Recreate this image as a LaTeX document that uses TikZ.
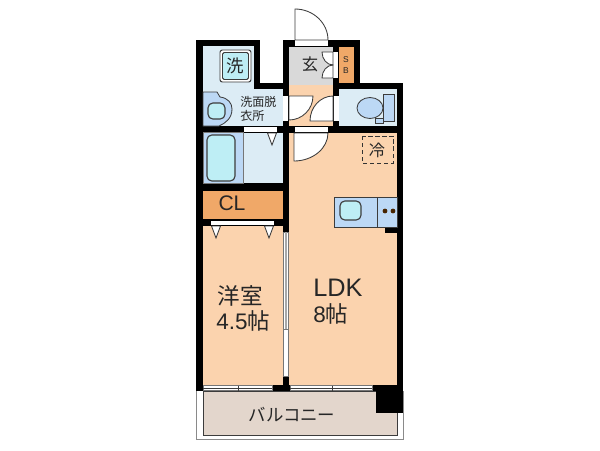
\documentclass[tikz,border=0pt]{standalone}
\usepackage{fontspec}
\setmainfont{Liberation Sans}
\newfontfamily\jpFont{Noto Sans CJK JP}
\tikzstyle{plan} = [x = .025cm, y = -.025cm]
\definecolor{wetColor}{RGB}{220,236,245}
\definecolor{fixtureColor}{RGB}{188,216,245}
\definecolor{waterColor}{RGB}{190,238,245}
\definecolor{roomColor}{RGB}{251,211,174}
\definecolor{closetColor}{RGB}{240,168,104}
\definecolor{entryColor}{RGB}{217,217,217}
\definecolor{balconyColor}{RGB}{227,214,204}
\definecolor{lineColor}{RGB}{60,60,60}
\tikzstyle{wallStyle} = [fill=black, draw=none]
\tikzstyle{gapStyle} = [fill=white, draw=none]
\tikzstyle{leafStyle} = [fill=white, draw=lineColor, line width=.6pt]
\tikzstyle{fixtureStyle} = [fill=fixtureColor, draw=lineColor, line width=.6pt]
\tikzstyle{waterStyle} = [fill=waterColor, draw=lineColor, line width=.8pt, rounded corners=.12cm]
\tikzstyle{roomText} = [font=\fontsize{16}{17}\selectfont\jpFont, text=black!85, inner sep=0pt]
\tikzstyle{smallText} = [font=\fontsize{8.6}{10}\selectfont\jpFont, text=black!85, inner sep=0pt]
\newcommand{\area}[5]{\fill [#5] (#1,#2) rectangle (#3,#4);}
\newcommand{\wall}[4]{\area{#1}{#2}{#3}{#4}{wallStyle}}
\newcommand{\gap}[4]{\area{#1}{#2}{#3}{#4}{gapStyle}}
% hinge at (#1,#2), leaf along #3 in x, arc ends #4 away in y
\newcommand{\doorLeaf}[4]{\filldraw [leafStyle] (#1,#2) -- (#1+#3,#2) .. controls (#1+#3,#2+.55*#4) and (#1+.55*#3,#2+#4) .. (#1,#2+#4) -- cycle;}
\newcommand{\foldLeaf}[2]{\filldraw [leafStyle] (#1,#2) -- (#1+9,#2) -- (#1+4.5,#2+12) -- cycle;}
\begin{document}
\begin{tikzpicture}[plan]
  \useasboundingbox (0,0) rectangle (600,450);

  % balcony
  \draw [lineColor!60, line width=.6pt] (196,391) -- (196,439) -- (403,439) -- (403,391);
  \filldraw [fill=balconyColor, draw=lineColor, line width=.7pt] (203,391) rectangle (397,435);

  % floors
  \fill [wetColor] (202,46) -- (254,46) -- (254,83) -- (283,83) -- (283,127) -- (202,127) -- cycle;
  \area{288}{46}{334}{85}{entryColor}
  \area{288}{85}{334}{127}{roomColor}
  \area{338}{46}{355}{84}{closetColor}
  \area{338}{88}{398}{127}{wetColor}
  \area{202}{132}{283}{184}{wetColor}
  \area{202}{190}{283}{220}{closetColor}
  \area{202}{225}{283}{385}{roomColor}
  \area{288}{132}{398}{385}{roomColor}

  % walls
  \wall{196}{40}{260}{46}
  \wall{196}{40}{203}{391}
  \wall{254}{40}{260}{89}
  \wall{254}{83}{289}{89}
  \wall{283}{40}{360}{46.5}
  \wall{283}{40}{289}{232}
  \wall{333}{40}{339}{133}
  \wall{354}{40}{360}{89}
  \wall{339}{83}{403}{89}
  \wall{397}{83}{403}{391}
  \wall{196}{126}{403}{133}
  \wall{196}{183}{289}{191}
  \wall{196}{219}{289}{226}
  \wall{196}{385}{403}{391}
  \wall{283}{376}{289}{391}
  \wall{376}{385}{403}{413}
  \wall{385}{227}{397}{233}

  % openings
  \gap{295}{40}{328}{46}
  \gap{283}{96}{288}{121}
  \gap{333}{52}{338}{78}
  \gap{334}{96}{339}{121}
  \gap{295}{126.5}{328}{132}
  \gap{244}{127}{277}{132}
  \gap{211}{220.5}{274}{225}
  \filldraw [fill=white, draw=lineColor!70, line width=.5pt] (283,232) rectangle (288,376);
  \fill [lineColor!45] (284.5,232) rectangle (286.5,329);
  \draw [lineColor!70, line width=.5pt] (283,329) -- (288,329);
  \foreach \windowLeft/\windowMid/\windowRight in {203/238/272, 290/332/372} {
    \filldraw [fill=white, draw=lineColor!70, line width=.4pt] (\windowLeft,385.5) rectangle (\windowRight,390.5);
    \draw [lineColor, line width=.6pt] (\windowLeft,388) -- (\windowRight,388);
    \draw [lineColor, line width=.6pt] (\windowMid,385.5) -- (\windowMid,390.5);
  }

  % doors
  \doorLeaf{295}{40}{33}{-31}
  \doorLeaf{294}{133}{34}{28}
  \doorLeaf{289}{96}{24}{24}
  \doorLeaf{333}{121}{-23}{-25}
  \doorLeaf{333}{52}{-11}{13}
  \doorLeaf{333}{78}{-11}{-13}
  \foldLeaf{267.5}{133}
  \foldLeaf{211.5}{226}
  \foldLeaf{264.5}{226}

  % washroom fixtures
  \filldraw [fixtureStyle] (203,92) -- (217,92) -- (220,97) .. controls (228,98) and (232,103) .. (232,109) .. controls (232,118) and (226,123) .. (219,126) -- (203,126) -- cycle;
  \filldraw [waterStyle] (208,103) rectangle (225,119);
  \filldraw [fill=white, draw=lineColor, line width=.7pt, rounded corners=.06cm] (220,50) rectangle (251,82);
  \filldraw [fill=waterColor, draw=lineColor, line width=.7pt, rounded corners=.04cm] (222.5,52.5) rectangle (248.5,79.5);
  \node [roomText, font=\fontsize{12.4}{14}\selectfont\jpFont] (washerLabel) at (235.5,66) {洗};
  \node [smallText, anchor=west] (washroomLabelTop) at (240,102) {洗面脱};
  \node [smallText, anchor=west] (washroomLabelBottom) at (240,115.5) {衣所};

  % bath
  \filldraw [fill=fixtureColor, draw=lineColor!70, line width=.5pt] (203,132.5) rectangle (243,183);
  \filldraw [waterStyle] (207,135) rectangle (235,181);

  % toilet
  \filldraw [fixtureStyle] (383,94) rectangle (394,121);
  \filldraw [fixtureStyle] (375,118) rectangle (383,123);
  \filldraw [fixtureStyle] (370,108) ellipse (13 and 10.5);

  % entry
  \node [roomText, font=\fontsize{11.6}{14}\selectfont\jpFont] (entryLabel) at (310,64) {玄};
  \node [font=\fontsize{6}{7.5}\selectfont, text=black!85, align=center, inner sep=0pt] (storageLabel) at (346,65) {S\\B};

  % LDK fixtures
  \draw [black!80, densely dashed, line width=.7pt] (362,136) rectangle (393,163);
  \node [smallText, font=\fontsize{11.5}{12}\selectfont\jpFont] (fridgeLabel) at (377,150) {冷};
  \filldraw [fixtureStyle] (334,197) rectangle (397,227);
  \draw [lineColor, line width=.6pt] (377,197) -- (377,227);
  \filldraw [waterStyle] (340,201) rectangle (361,220);
  \fill [black!60!orange!70!black] (385,211) circle (2.4);
  \fill [black!60!orange!70!black] (393,211) circle (2.4);

  % labels
  \node [roomText, font=\fontsize{15}{16}\selectfont] (closetLabel) at (232,203) {CL};
  \node [roomText, anchor=west] (westernLabelTop) at (217.5,296) {洋室};
  \node [roomText, anchor=west] (westernLabelBottom) at (216,321) {\fontsize{16}{17}\selectfont\rmfamily 4.5\jpFont 帖};
  \node [roomText, anchor=west] (ldkLabelTop) at (313,288) {\fontsize{18}{19}\selectfont\rmfamily LDK};
  \node [roomText, anchor=west] (ldkLabelBottom) at (313,314) {\fontsize{16}{17}\selectfont\rmfamily 8\jpFont 帖};
  \node [roomText, font=\fontsize{12.4}{13}\selectfont\jpFont] (balconyLabel) at (292,415) {バルコニー};
\end{tikzpicture}
\end{document}
